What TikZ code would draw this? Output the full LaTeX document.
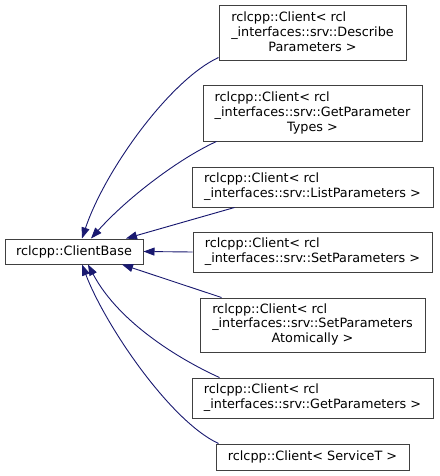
\documentclass[tikz,border=0pt]{standalone}
\usepackage{fontspec}
\setmainfont{DejaVu Sans}
\usetikzlibrary{arrows.meta}
\definecolor{edgeblue}{HTML}{191970}
\definecolor{boxgray}{HTML}{404040}
\begin{document}
\begin{tikzpicture}[x=1pt,y=-1pt,
		cls/.style={draw=boxgray,line width=1pt,fill=white,inner sep=0pt,
			font=\fontsize{12.8}{14.7}\selectfont},
		edge/.style={edgeblue,line width=0.9pt,{Triangle[length=11pt,width=8pt]}-}]
		\useasboundingbox (0,0) rectangle (439,476);

		% base class
		\node[cls,minimum width=138pt,minimum height=25pt] (base) at (74,251.5) {rclcpp::ClientBase};

		% derived classes
		\node[cls,minimum width=187pt,minimum height=55pt] (desc) at (312.5,33.5)
		{\begin{tabular}{@{}l@{}}rclcpp::Client< rcl\\\_interfaces::srv::Describe\\\multicolumn{1}{@{}c@{}}{Parameters >}\end{tabular}};
		\node[cls,minimum width=219pt,minimum height=55pt] (gpt) at (312.5,113.5)
		{\begin{tabular}{@{}l@{}}rclcpp::Client< rcl\\\_interfaces::srv::GetParameter\\\multicolumn{1}{@{}c@{}}{Types >}\end{tabular}};
		\node[cls,minimum width=241pt,minimum height=40pt] (list) at (312.5,187)
		{\begin{tabular}{@{}l@{}}rclcpp::Client< rcl\\\_interfaces::srv::ListParameters >\end{tabular}};
		\node[cls,minimum width=239pt,minimum height=40pt] (set) at (312.5,252)
		{\begin{tabular}{@{}l@{}}rclcpp::Client< rcl\\\_interfaces::srv::SetParameters >\end{tabular}};
		\node[cls,minimum width=225pt,minimum height=54pt] (atom) at (312.5,325)
		{\begin{tabular}{@{}l@{}}rclcpp::Client< rcl\\\_interfaces::srv::SetParameters\\\multicolumn{1}{@{}c@{}}{Atomically >}\end{tabular}};
		\node[cls,minimum width=241pt,minimum height=40pt] (get) at (312.5,398)
		{\begin{tabular}{@{}l@{}}rclcpp::Client< rcl\\\_interfaces::srv::GetParameters >\end{tabular}};
		\node[cls,minimum width=193pt,minimum height=26pt] (svc) at (312.5,457) {rclcpp::Client< ServiceT >};

		% inheritance edges
		\draw[edge] ([xshift=8pt]base.north) .. controls (105,170) and (170,80) .. ([yshift=4pt]desc.south west);
		\draw[edge] ([xshift=17pt]base.north) .. controls (128,197) and (180,158) .. ([xshift=14pt]gpt.south west);
		\draw[edge] ([xshift=52pt]base.north) -- ([xshift=43pt]list.south west);
		\draw[edge] (base.east) -- (set.west);
		\draw[edge] ([xshift=48pt]base.south) -- ([xshift=22pt]atom.north west);
		\draw[edge] ([xshift=14pt]base.south) .. controls (120,325) and (185,362) .. ([xshift=28pt]get.north west);
		\draw[edge] ([xshift=8pt]base.south) .. controls (105,325) and (170,421) .. ([xshift=3pt]svc.north west);
	\end{tikzpicture}
\end{document}
